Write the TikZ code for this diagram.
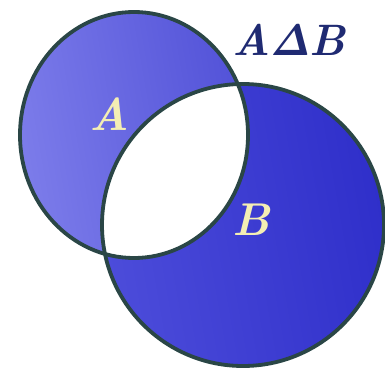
\RequirePackage{fix-cm}
\documentclass[tikz,border=0pt]{standalone}
\usepackage{bm}
\definecolor{rim}{HTML}{2A4646}
\definecolor{aLight}{HTML}{7C7CEA}
\definecolor{aDark}{HTML}{5252D8}
\definecolor{bLight}{HTML}{4C4CDA}
\definecolor{bDark}{HTML}{2F2FCA}
\definecolor{labelCol}{HTML}{F4EEB4}
\definecolor{titleCol}{HTML}{1F2A72}
\tikzset{
  rimline/.style={draw=rim, line width=3.8pt},
  setlabel/.style={text=labelCol, font=\fontsize{46}{46}\selectfont\bfseries\itshape, inner sep=0pt},
  titlelabel/.style={text=titleCol, font=\fontsize{44}{44}\selectfont\bfseries\itshape, inner sep=0pt}
}
\begin{document}
\begin{tikzpicture}[x=1pt,y=-1pt]
\useasboundingbox (0,0) rectangle (385,372);
\fill[white] (0,0) rectangle (385,372);
\coordinate (ca) at (134,135);
\coordinate (cb) at (243,225);
% filled sets
\shade[left color=aLight, right color=aDark, shading angle=100] (ca) ellipse [x radius=114, y radius=123];
\shade[left color=bLight, right color=bDark, shading angle=100] (cb) circle [radius=141];
% intersection white
\begin{scope}
  \clip (ca) ellipse [x radius=114, y radius=123];
  \fill[white] (cb) circle [radius=141];
\end{scope}
% outlines
\draw[rimline] (ca) ellipse [x radius=114, y radius=123];
\draw[rimline] (cb) circle [radius=141];
% labels
\node[setlabel] (la) at (109,114) {A};
\node[setlabel] (lb) at (251,220) {B};
\node[titlelabel] (lt) at (289,40) {A\kern-1pt$\bm{\mathit{\Delta}}$\kern-1pt B};
\end{tikzpicture}
\end{document}
